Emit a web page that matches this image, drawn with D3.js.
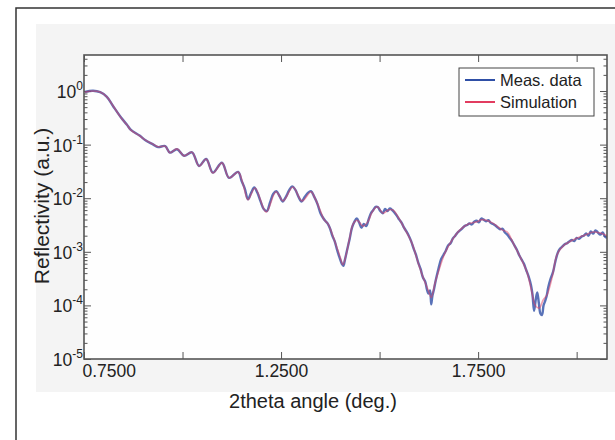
<!DOCTYPE html>
<html><head><meta charset="utf-8">
<script src="https://cdn.jsdelivr.net/npm/d3@7"></script>
<style>html,body{margin:0;padding:0;background:#fff;}svg{display:block;font-family:"Liberation Sans",Arial,sans-serif;}</style>
</head><body>
<svg id="c" width="615" height="440"></svg>
<script>
// ---- data ----
const simTheta = [0.752,0.773,0.791,0.808,0.824,0.844,0.859,0.869,0.892,0.905,0.925,0.938,0.956,0.968,0.986,1.004,1.024,1.042,1.060,1.077,1.100,1.118,1.141,1.154,1.166,1.184,1.212,1.237,1.255,1.280,1.303,1.326,1.336,1.349,1.359,1.369,1.387,1.400,1.407,1.415,1.423,1.433,1.443,1.458,1.471,1.481,1.494,1.509,1.522,1.534,1.547,1.565,1.582,1.598,1.610,1.623,1.631,1.640,1.648,1.666,1.684,1.704,1.725,1.747,1.760,1.786,1.811,1.824,1.839,1.857,1.874,1.885,1.895,1.905,1.915,1.925,1.938,1.950,1.966,1.991,2.017,2.042,2.060,2.077];
const simR = [0.955,1.0,0.955,0.776,0.525,0.316,0.234,0.186,0.145,0.123,0.102,0.0912,0.0933,0.0708,0.0832,0.0617,0.0724,0.0398,0.0537,0.0295,0.0457,0.0240,0.0309,0.0178,0.00933,0.0155,0.00550,0.0132,0.00891,0.0162,0.00891,0.0132,0.0100,0.00603,0.00398,0.00331,0.00151,0.000794,0.000575,0.000871,0.00166,0.00331,0.00389,0.00302,0.00372,0.00550,0.00692,0.00525,0.00603,0.00603,0.00447,0.00257,0.00145,0.000617,0.000339,0.000195,0.000141,0.000251,0.000398,0.000955,0.00166,0.00257,0.00331,0.00363,0.00398,0.00347,0.00257,0.00234,0.00145,0.000794,0.000417,0.000195,0.000100,0.0000891,0.000126,0.000158,0.000339,0.000871,0.00129,0.00166,0.00200,0.00234,0.00224,0.00200];

const measTheta = [0.752,0.773,0.791,0.808,0.824,0.844,0.859,0.869,0.892,0.905,0.925,0.938,0.956,0.968,0.986,1.004,1.024,1.042,1.060,1.077,1.100,1.118,1.141,
1.150,1.158,1.166,1.174,1.182,1.190,1.198,1.206,1.214,1.222,1.230,1.238,1.246,1.254,1.262,1.270,1.278,1.286,1.294,1.302,1.310,1.318,1.326,1.334,1.342,1.350,1.356,1.362,1.368,1.374,1.380,1.386,1.392,1.398,1.404,1.408,1.412,1.418,1.424,1.430,1.436,1.442,1.448,1.454,1.460,1.466,1.472,1.478,1.484,1.490,1.496,1.502,1.508,1.514,1.520,1.526,1.532,1.538,1.544,1.550,1.556,1.562,1.568,1.574,1.580,1.586,1.592,1.598,1.604,1.610,1.616,1.620,1.624,1.628,1.631,1.634,1.638,1.642,1.646,1.650,1.656,1.662,1.668,1.674,1.680,1.686,1.692,1.698,1.704,1.710,1.716,1.722,1.728,1.734,1.740,1.746,1.752,1.758,1.764,1.770,1.776,1.782,1.788,1.794,1.800,1.806,1.812,1.818,1.824,1.830,1.836,1.842,1.848,1.854,1.860,1.866,1.872,1.878,1.884,1.888,1.892,1.896,1.900,1.904,1.908,1.912,1.916,1.920,1.924,1.928,1.934,1.940,1.946,1.952,1.958,1.964,1.970,1.976,1.982,1.988,1.994,2.000,2.006,2.012,2.018,2.024,2.030,2.036,2.042,2.048,2.054,2.060,2.066,2.072,2.077];
const measR = [0.96,1.01,0.95,0.78,0.52,0.32,0.235,0.188,0.146,0.122,0.101,0.090,0.094,0.071,0.082,0.062,0.072,0.040,0.054,0.030,0.046,0.024,0.031,
2.09e-2,1.51e-2,9.55e-3,1.26e-2,1.58e-2,1.26e-2,8.71e-3,6.31e-3,5.75e-3,8.32e-3,1.20e-2,1.35e-2,1.10e-2,8.71e-3,1.05e-2,1.38e-2,1.66e-2,1.45e-2,1.07e-2,8.71e-3,1.05e-2,1.26e-2,1.35e-2,1.07e-2,7.94e-3,5.25e-3,4.37e-3,3.80e-3,3.39e-3,2.75e-3,2.00e-3,1.58e-3,1.10e-3,7.94e-4,6.03e-4,5.50e-4,7.08e-4,1.12e-3,1.74e-3,2.82e-3,3.63e-3,4.17e-3,3.55e-3,2.82e-3,3.31e-3,3.02e-3,3.98e-3,5.25e-3,6.03e-3,6.92e-3,6.76e-3,5.75e-3,5.25e-3,6.31e-3,5.75e-3,6.46e-3,6.03e-3,5.37e-3,4.68e-3,3.98e-3,3.47e-3,2.82e-3,2.40e-3,2.00e-3,1.58e-3,1.17e-3,8.91e-4,6.31e-4,4.79e-4,3.31e-4,2.75e-4,2.00e-4,1.66e-4,1.91e-4,1.05e-4,1.51e-4,2.00e-4,2.82e-4,3.80e-4,5.01e-4,7.24e-4,8.71e-4,1.05e-3,1.32e-3,1.45e-3,1.78e-3,2.00e-3,2.29e-3,2.51e-3,2.75e-3,3.02e-3,3.16e-3,3.39e-3,3.24e-3,3.63e-3,3.80e-3,3.55e-3,4.17e-3,3.98e-3,3.72e-3,3.89e-3,3.47e-3,3.31e-3,3.09e-3,2.82e-3,2.63e-3,2.69e-3,2.29e-3,2.09e-3,1.82e-3,1.58e-3,1.32e-3,1.10e-3,8.71e-4,7.24e-4,6.03e-4,4.57e-4,3.47e-4,2.40e-4,1.58e-4,7.94e-5,1.26e-4,1.74e-4,1.12e-4,7.08e-5,6.61e-5,1.00e-4,1.20e-4,1.51e-4,2.19e-4,3.16e-4,4.17e-4,6.61e-4,9.55e-4,1.15e-3,1.26e-3,1.38e-3,1.45e-3,1.58e-3,1.66e-3,1.58e-3,1.82e-3,1.74e-3,1.91e-3,2.00e-3,2.19e-3,2.00e-3,2.40e-3,2.19e-3,2.51e-3,2.29e-3,2.09e-3,2.29e-3,1.91e-3,1.82e-3];

const xTicks = [0.75,1.0,1.25,1.5,1.75,2.0];
const xTickLabels = ["0.7500","","1.2500","","1.7500",""];
const yDecades = [1e-5,1e-4,1e-3,1e-2,1e-1,1];
const yExponents = ["-5","-4","-3","-2","-1","0"];
const seriesNames = ["Meas. data","Simulation"];
const seriesColors = ["#2f4fa6","#e23c60"];

// ---- layout ----
const svg = d3.select("#c");
const L=84, R=607, T=55, B=359;
const x = d3.scaleLinear().domain([0.75,2.077]).range([L,R]);
const y = d3.scaleLog().domain([1e-5,4.7]).range([B,T]);

svg.append("rect").attr("x",16).attr("y",8).attr("width",640).attr("height",460)
  .attr("fill","#fff").attr("stroke","#333").attr("stroke-width",1.5);
svg.append("rect").attr("x",36).attr("y",24).attr("width",600).attr("height",368).attr("fill","#f4f4f4");
svg.append("rect").attr("x",L).attr("y",T).attr("width",R-L).attr("height",B-T).attr("fill","#fefefe");

// minor log ticks
const minor=[];
for(let e=-5;e<=0;e++) for(let m=2;m<=9;m++){const v=m*Math.pow(10,e); if(v<=4.7) minor.push(v);}

function styleAxis(g){g.select(".domain").remove(); g.selectAll(".tick line").attr("stroke","#555").attr("stroke-width",1);}
svg.append("g").attr("transform",`translate(${L},0)`).call(d3.axisLeft(y).tickValues(minor).tickSize(-3.5).tickFormat("")).call(styleAxis);
svg.append("g").attr("transform",`translate(${R},0)`).call(d3.axisRight(y).tickValues(minor).tickSize(-3.5).tickFormat("")).call(styleAxis);
svg.append("g").attr("transform",`translate(${L},0)`).call(d3.axisLeft(y).tickValues(yDecades).tickSize(-7).tickFormat("")).call(styleAxis);
svg.append("g").attr("transform",`translate(${R},0)`).call(d3.axisRight(y).tickValues(yDecades).tickSize(-7).tickFormat("")).call(styleAxis);
svg.append("g").attr("transform",`translate(0,${T})`).call(d3.axisTop(x).tickValues(xTicks).tickSize(-7).tickFormat("")).call(styleAxis);
const xb = svg.append("g").attr("transform",`translate(0,${B})`)
  .call(d3.axisBottom(x).tickValues(xTicks).tickSize(-7).tickFormat((d,i)=>xTickLabels[i]));
styleAxis(xb);
xb.selectAll(".tick text").attr("font-size",17.5).attr("fill","#222").attr("font-family","Liberation Sans, Arial, sans-serif")
  .attr("y",18).attr("dy",0);
xb.selectAll(".tick text").filter((d,i)=>i===0).attr("text-anchor","start").attr("dx",-2);

// y labels with superscripts
const yl = svg.append("g");
yDecades.forEach((v,i)=>{
  const t = yl.append("text").attr("x",83).attr("y",y(v)+7).attr("text-anchor","end")
    .attr("font-size",17.5).attr("fill","#222");
  t.append("tspan").text("10");
  t.append("tspan").attr("dy",-8).attr("font-size",12).text(yExponents[i]);
});

// lines
const line = d3.line().x(d=>x(d[0])).y(d=>y(d[1])).curve(d3.curveCatmullRom.alpha(0.5));
const meas = measTheta.map((t,i)=>[t,measR[i]]);
const sim = simTheta.map((t,i)=>[t,simR[i]]);
svg.append("clipPath").attr("id","pc").append("rect").attr("x",L).attr("y",T).attr("width",R-L).attr("height",B-T);
svg.append("path").datum(meas).attr("d",line).attr("fill","none").attr("stroke",seriesColors[0]).attr("stroke-width",2.4).attr("stroke-opacity",0.8).attr("stroke-linejoin","round").attr("clip-path","url(#pc)");
svg.append("path").datum(sim).attr("d",line).attr("fill","none").attr("stroke",seriesColors[1]).attr("stroke-width",1.6).attr("stroke-opacity",0.5).attr("clip-path","url(#pc)");

// frame
svg.append("rect").attr("x",L).attr("y",T).attr("width",R-L).attr("height",B-T)
  .attr("fill","none").attr("stroke","#555").attr("stroke-width",1.6);

// legend
const lg = svg.append("g");
lg.append("rect").attr("x",459).attr("y",68).attr("width",135).attr("height",48).attr("fill","#fff").attr("stroke","#444").attr("stroke-width",1);
seriesNames.forEach((n,i)=>{
  const yy = 80 + i*22;
  lg.append("line").attr("x1",465).attr("x2",495).attr("y1",yy).attr("y2",yy).attr("stroke",seriesColors[i]).attr("stroke-width",2);
  lg.append("text").attr("x",500).attr("y",yy+6).attr("font-size",16.5).attr("fill","#222").text(n);
});

// titles
svg.append("text").attr("x",313).attr("y",408).attr("text-anchor","middle").attr("font-size",20).attr("fill","#222").text("2theta angle (deg.)");
svg.append("text").attr("transform","translate(49,206) rotate(-90)").attr("text-anchor","middle").attr("font-size",21).attr("fill","#222").text("Reflectivity (a.u.)");
</script>
</body></html>
